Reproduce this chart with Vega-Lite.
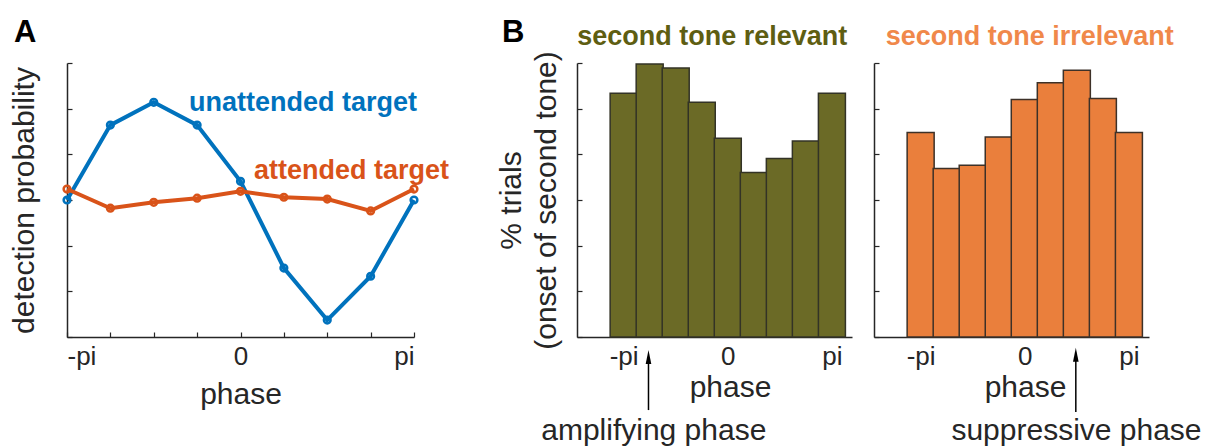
{
  "$schema": "https://vega.github.io/schema/vega-lite/v6.json",
  "background": "white",
  "autosize": {"type": "pad"},
  "padding": {"left": 9, "top": 16, "right": 0, "bottom": 0},
  "datasets": {
    "detection": [
      {"phase": -3.1416, "unattended": 3.00, "attended": 3.24},
      {"phase": -2.3562, "unattended": 4.64, "attended": 2.82},
      {"phase": -1.5708, "unattended": 5.14, "attended": 2.95},
      {"phase": -0.7854, "unattended": 4.64, "attended": 3.04},
      {"phase": 0, "unattended": 3.41, "attended": 3.19},
      {"phase": 0.7854, "unattended": 1.51, "attended": 3.06},
      {"phase": 1.5708, "unattended": 0.37, "attended": 3.02},
      {"phase": 2.3562, "unattended": 1.33, "attended": 2.76},
      {"phase": 3.1416, "unattended": 3.00, "attended": 3.24}
    ],
    "relevant": [
      {"phase": -3.1416, "pct": 5.34},
      {"phase": -2.3562, "pct": 5.98},
      {"phase": -1.5708, "pct": 5.89},
      {"phase": -0.7854, "pct": 5.14},
      {"phase": 0, "pct": 4.35},
      {"phase": 0.7854, "pct": 3.60},
      {"phase": 1.5708, "pct": 3.91},
      {"phase": 2.3562, "pct": 4.29},
      {"phase": 3.1416, "pct": 5.34}
    ],
    "irrelevant": [
      {"phase": -3.1416, "pct": 4.48},
      {"phase": -2.3562, "pct": 3.69},
      {"phase": -1.5708, "pct": 3.76},
      {"phase": -0.7854, "pct": 4.38},
      {"phase": 0, "pct": 5.20},
      {"phase": 0.7854, "pct": 5.57},
      {"phase": 1.5708, "pct": 5.84},
      {"phase": 2.3562, "pct": 5.22},
      {"phase": 3.1416, "pct": 4.48}
    ]
  },
  "config": {
    "view": {"stroke": null},
    "font": "Liberation Sans",
    "axis": {
      "grid": false,
      "domainColor": "#262626",
      "domainWidth": 1.5,
      "tickColor": "#262626",
      "tickWidth": 1.2,
      "tickSize": -5,
      "labelColor": "#262626",
      "titleColor": "#262626",
      "labelFont": "Liberation Sans",
      "titleFont": "Liberation Sans",
      "labelFontSize": 26,
      "titleFontSize": 30,
      "titleFontWeight": "normal",
      "labelPadding": 11
    }
  },
  "spacing": 163,
  "bounds": "flush",
  "hconcat": [
    {
      "width": 347,
      "height": 274,
      "layer": [
        {
          "data": {"name": "detection"},
          "mark": {"type": "line", "color": "#0072BD", "strokeWidth": 4},
          "encoding": {
            "x": {
              "field": "phase", "type": "quantitative",
              "scale": {"domain": [-3.1416, 3.1416], "nice": false, "zero": false},
              "axis": {
                "values": [-3.1416, -2.3562, -1.5708, -0.7854, 0, 0.7854, 1.5708, 2.3562, 3.1416],
                "labelExpr": "datum.value < -3 ? '-pi' : datum.value > 3 ? 'pi' : abs(datum.value) < 0.01 ? '0' : ''",
                "title": "phase",
                "titlePadding": 10
              }
            },
            "y": {
              "field": "unattended", "type": "quantitative",
              "scale": {"domain": [0, 6], "nice": false},
              "axis": {"values": [0, 1, 2, 3, 4, 5, 6], "labels": false, "title": "detection probability", "titlePadding": 27}
            }
          }
        },
        {
          "data": {"name": "detection"},
          "mark": {"type": "point", "color": "#0072BD", "filled": false, "size": 45, "strokeWidth": 2.5, "opacity": 1},
          "encoding": {"x": {"field": "phase", "type": "quantitative"}, "y": {"field": "unattended", "type": "quantitative"}}
        },
        {
          "data": {"name": "detection"},
          "mark": {"type": "line", "color": "#D95319", "strokeWidth": 4},
          "encoding": {"x": {"field": "phase", "type": "quantitative"}, "y": {"field": "attended", "type": "quantitative"}}
        },
        {
          "data": {"name": "detection"},
          "mark": {"type": "point", "color": "#D95319", "filled": false, "size": 45, "strokeWidth": 2.5, "opacity": 1},
          "encoding": {"x": {"field": "phase", "type": "quantitative"}, "y": {"field": "attended", "type": "quantitative"}}
        },
        {
          "data": {"values": [{}]},
          "mark": {"type": "text", "text": "unattended target", "color": "#0072BD", "fontSize": 27, "fontWeight": "bold", "align": "left", "baseline": "alphabetic"},
          "encoding": {"x": {"datum": -0.933}, "y": {"datum": 4.95}}
        },
        {
          "data": {"values": [{}]},
          "mark": {"type": "text", "text": "attended target", "color": "#D95319", "fontSize": 27, "fontWeight": "bold", "align": "left", "baseline": "alphabetic"},
          "encoding": {"x": {"datum": 0.244}, "y": {"datum": 3.46}}
        },
        {
          "data": {"values": [{}]},
          "mark": {"type": "text", "text": "A", "color": "black", "fontSize": 31, "fontWeight": "bold", "align": "left", "baseline": "alphabetic"},
          "encoding": {"x": {"datum": -4.1}, "y": {"datum": 6.46}}
        }
      ]
    },
    {
      "spacing": 22,
      "bounds": "flush",
      "hconcat": [
        {
          "width": 275,
          "height": 274,
          "layer": [
            {
              "data": {"name": "relevant"},
              "mark": {"type": "bar", "width": 27, "fill": "#6b6a26", "stroke": "#333326", "strokeWidth": 1.5},
              "encoding": {
                "x": {
                  "field": "phase", "type": "quantitative",
                  "scale": {"domain": [-4.398, 3.597], "nice": false, "zero": false},
                  "axis": {
                    "values": [-3.1416, 0, 3.1416],
                    "labelExpr": "datum.value < -3 ? '-pi' : datum.value > 3 ? 'pi' : '0'",
                    "title": "phase", "titleX": 153, "titlePadding": 3
                  }
                },
                "y": {
                  "field": "pct", "type": "quantitative",
                  "scale": {"domain": [0, 6], "nice": false},
                  "axis": {"values": [0, 1, 2, 3, 4, 5, 6], "labels": false, "title": ["% trials", "(onset of second tone)"], "titleLineHeight": 35, "titlePadding": 15}
                }
              }
            },
            {
              "data": {"values": [{}]},
              "mark": {"type": "rule", "color": "black", "strokeWidth": 1.5},
              "encoding": {"x": {"datum": -2.392}, "y": {"datum": -0.44}, "y2": {"datum": -1.6}}
            },
            {
              "data": {"values": [{}]},
              "mark": {"type": "point", "shape": "M0,-1L-0.4,1L0.4,1Z", "filled": true, "color": "black", "size": 196, "opacity": 1},
              "encoding": {"x": {"datum": -2.392}, "y": {"datum": -0.44}}
            },
            {
              "data": {"values": [{}]},
              "mark": {"type": "text", "text": "amplifying phase", "color": "#262626", "fontSize": 30, "align": "center", "baseline": "alphabetic"},
              "encoding": {"x": {"datum": -2.232}, "y": {"datum": -2.26}}
            },
            {
              "data": {"values": [{}]},
              "mark": {"type": "text", "text": "B", "color": "black", "fontSize": 31, "fontWeight": "bold", "align": "left", "baseline": "alphabetic"},
              "encoding": {"x": {"datum": -6.811}, "y": {"datum": 6.46}}
            },
            {
              "data": {"values": [{}]},
              "mark": {"type": "text", "text": "second tone relevant", "color": "#5e5e12", "fontSize": 27, "fontWeight": "bold", "align": "left", "baseline": "alphabetic"},
              "encoding": {"x": {"datum": -4.543}, "y": {"datum": 6.39}}
            }
          ]
        },
        {
          "width": 275,
          "height": 274,
          "layer": [
            {
              "data": {"name": "irrelevant"},
              "mark": {"type": "bar", "width": 27, "fill": "#ea7f3c", "stroke": "#3d3128", "strokeWidth": 1.5},
              "encoding": {
                "x": {
                  "field": "phase", "type": "quantitative",
                  "scale": {"domain": [-4.398, 3.597], "nice": false, "zero": false},
                  "axis": {
                    "values": [-3.1416, 0, 3.1416],
                    "labelExpr": "datum.value < -3 ? '-pi' : datum.value > 3 ? 'pi' : '0'",
                    "title": "phase", "titleX": 151, "titlePadding": 3
                  }
                },
                "y": {
                  "field": "pct", "type": "quantitative",
                  "scale": {"domain": [0, 6], "nice": false},
                  "axis": {"values": [0, 1, 2, 3, 4, 5, 6], "labels": false, "title": null}
                }
              }
            },
            {
              "data": {"values": [{}]},
              "mark": {"type": "rule", "color": "black", "strokeWidth": 1.5},
              "encoding": {"x": {"datum": 1.54}, "y": {"datum": -0.39}, "y2": {"datum": -1.64}}
            },
            {
              "data": {"values": [{}]},
              "mark": {"type": "point", "shape": "M0,-1L-0.4,1L0.4,1Z", "filled": true, "color": "black", "size": 196, "opacity": 1},
              "encoding": {"x": {"datum": 1.54}, "y": {"datum": -0.39}}
            },
            {
              "data": {"values": [{}]},
              "mark": {"type": "text", "text": "suppressive phase", "color": "#262626", "fontSize": 30, "align": "center", "baseline": "alphabetic"},
              "encoding": {"x": {"datum": 1.56}, "y": {"datum": -2.26}}
            },
            {
              "data": {"values": [{}]},
              "mark": {"type": "text", "text": "second tone irrelevant", "color": "#f0884a", "fontSize": 27, "fontWeight": "bold", "align": "left", "baseline": "alphabetic"},
              "encoding": {"x": {"datum": -4.194}, "y": {"datum": 6.39}}
            }
          ]
        }
      ]
    }
  ]
}
